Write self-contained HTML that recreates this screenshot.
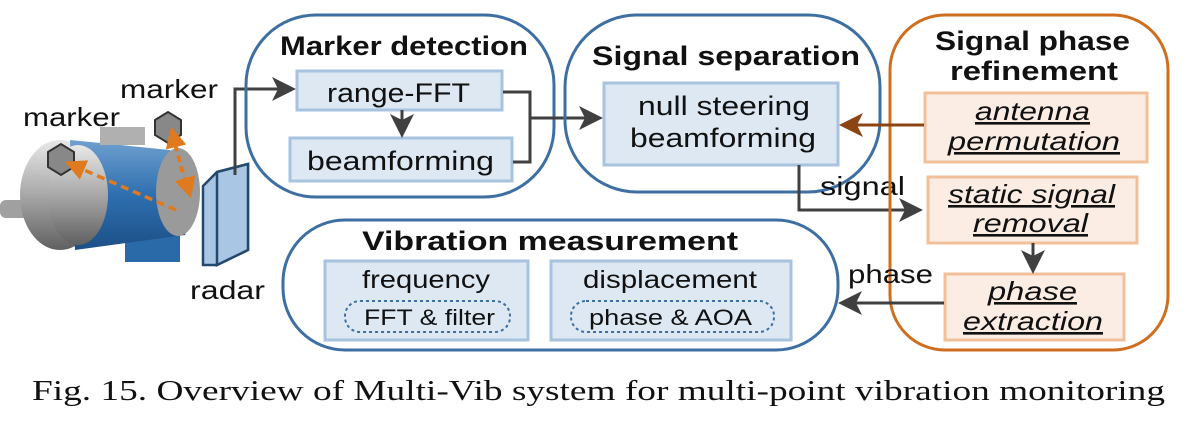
<!DOCTYPE html>
<html><head><meta charset="utf-8"><style>
html,body{margin:0;padding:0;background:#fff;}
svg{display:block;}
text{font-family:"Liberation Sans",Arial,sans-serif;fill:#111;}
.b{font-weight:bold;}
</style></head><body>
<svg width="1200" height="428" viewBox="0 0 1200 428" xmlns="http://www.w3.org/2000/svg">
<defs>
<marker id="ag" markerWidth="8" markerHeight="8" refX="7" refY="4" orient="auto" markerUnits="strokeWidth"><path d="M0,0 L8,4 L0,8 L2,4 z" fill="#404040"/></marker>
<marker id="ao" markerWidth="8" markerHeight="8" refX="7" refY="4" orient="auto" markerUnits="strokeWidth"><path d="M0,0 L8,4 L0,8 L2,4 z" fill="#8b4513"/></marker>
<marker id="ar" markerWidth="6" markerHeight="6" refX="5" refY="3" orient="auto" markerUnits="strokeWidth"><path d="M0,0 L6,3 L0,6 z" fill="#e07a1f"/></marker>
<linearGradient id="gm" x1="0" y1="0" x2="0" y2="1"><stop offset="0" stop-color="#e8e8e8"/><stop offset="0.5" stop-color="#a8a8a8"/><stop offset="1" stop-color="#606060"/></linearGradient>
<linearGradient id="gb" x1="0" y1="0" x2="0" y2="1"><stop offset="0" stop-color="#6fa0cf"/><stop offset="0.5" stop-color="#2e6fb0"/><stop offset="1" stop-color="#1d4f86"/></linearGradient>
</defs>

<!-- motor -->
<rect x="0" y="200" width="50" height="18" rx="6" fill="#a0a0a0"/>
<ellipse cx="60" cy="195" rx="40" ry="55" fill="url(#gm)"/>
<rect x="125" y="200" width="55" height="62" fill="#2a6aa8"/>
<path d="M70,140 L170,150 Q205,185 185,235 L75,250 Z" fill="url(#gb)"/>
<ellipse cx="78" cy="195" rx="30" ry="50" fill="url(#gm)"/>
<ellipse cx="178" cy="192" rx="22" ry="44" fill="#9a9a9a"/>
<rect x="100" y="127" width="45" height="18" fill="#b0b0b0"/>
<!-- markers -->
<path d="M48,152 L61,144 L74,152 L74,167 L61,175 L48,167 Z" fill="#888" stroke="#333" stroke-width="2"/>
<path d="M155,120 L168,112 L181,120 L181,135 L168,143 L155,135 Z" fill="#888" stroke="#333" stroke-width="2"/>
<line x1="176" y1="210" x2="68" y2="163" stroke="#e07a1f" stroke-width="3.5" stroke-dasharray="8,5" marker-end="url(#ar)"/>
<line x1="182" y1="172" x2="172" y2="130" stroke="#e07a1f" stroke-width="3.5" stroke-dasharray="6,5" marker-end="url(#ar)"/>
<line x1="172" y1="135" x2="190" y2="195" stroke="#e07a1f" stroke-width="3.5" stroke-dasharray="6,5" marker-end="url(#ar)"/>
<text x="23" y="126" font-size="26" textLength="97" lengthAdjust="spacingAndGlyphs">marker</text>
<text x="120" y="98" font-size="26" textLength="98" lengthAdjust="spacingAndGlyphs">marker</text>
<!-- radar -->
<path d="M203,186 L217,172 L248,164 L248,250 L217,265 L203,265 Z" fill="#a9c7e4" stroke="#24486e" stroke-width="2.5"/>
<path d="M217,172 L248,164 L248,250 L217,265 Z" fill="#a9c7e4" stroke="#24486e" stroke-width="2.5"/>
<text x="190" y="299" font-size="26" textLength="75" lengthAdjust="spacingAndGlyphs">radar</text>
<polyline points="235,175 235,89 293,89" fill="none" stroke="#404040" stroke-width="3" marker-end="url(#ag)"/>

<!-- Marker detection -->
<rect x="246" y="15" width="308" height="182" rx="70" fill="none" stroke="#3d6fa3" stroke-width="3"/>
<text x="280" y="55" font-size="27" class="b" textLength="248" lengthAdjust="spacingAndGlyphs">Marker detection</text>
<rect x="297" y="71" width="205" height="39" fill="#dde8f3" stroke="#a7c3df" stroke-width="3"/>
<text x="327" y="102" font-size="27" textLength="143" lengthAdjust="spacingAndGlyphs">range-FFT</text>
<rect x="290" y="138" width="222" height="43" fill="#dde8f3" stroke="#a7c3df" stroke-width="3"/>
<text x="307" y="170" font-size="27" textLength="187" lengthAdjust="spacingAndGlyphs">beamforming</text>
<line x1="402" y1="110" x2="402" y2="135" stroke="#404040" stroke-width="3" marker-end="url(#ag)"/>
<polyline points="503,92 530,92 530,162 513,162" fill="none" stroke="#404040" stroke-width="3"/>
<line x1="530" y1="118" x2="600" y2="118" stroke="#404040" stroke-width="3" marker-end="url(#ag)"/>

<!-- Signal separation -->
<rect x="565" y="15" width="315" height="177" rx="72" fill="none" stroke="#3d6fa3" stroke-width="3"/>
<text x="592" y="65" font-size="27" class="b" textLength="268" lengthAdjust="spacingAndGlyphs">Signal separation</text>
<rect x="604" y="83" width="234" height="82" fill="#dde8f3" stroke="#a7c3df" stroke-width="3"/>
<text x="638" y="115" font-size="27" textLength="172" lengthAdjust="spacingAndGlyphs">null steering</text>
<text x="630" y="147" font-size="27" textLength="186" lengthAdjust="spacingAndGlyphs">beamforming</text>
<polyline points="799,165 799,210 920,210" fill="none" stroke="#404040" stroke-width="3" marker-end="url(#ag)"/>
<text x="820" y="195" font-size="26" textLength="85" lengthAdjust="spacingAndGlyphs">signal</text>

<!-- Signal phase refinement -->
<rect x="890" y="15" width="278" height="335" rx="55" fill="none" stroke="#cf6e1f" stroke-width="3"/>
<text x="935" y="50" font-size="27" class="b" textLength="195" lengthAdjust="spacingAndGlyphs">Signal phase</text>
<text x="950" y="80" font-size="27" class="b" textLength="168" lengthAdjust="spacingAndGlyphs">refinement</text>
<rect x="925" y="93" width="222" height="69" fill="#fbede3" stroke="#f1c09b" stroke-width="3"/>
<text x="975" y="120" font-size="26" font-style="italic" text-decoration="underline" textLength="115" lengthAdjust="spacingAndGlyphs">antenna</text>
<text x="948" y="150" font-size="26" font-style="italic" text-decoration="underline" textLength="172" lengthAdjust="spacingAndGlyphs">permutation</text>
<rect x="928" y="177" width="209" height="66" fill="#fbede3" stroke="#f1c09b" stroke-width="3"/>
<text x="948" y="203" font-size="26" font-style="italic" text-decoration="underline" textLength="167" lengthAdjust="spacingAndGlyphs">static signal</text>
<text x="973" y="232" font-size="26" font-style="italic" text-decoration="underline" textLength="115" lengthAdjust="spacingAndGlyphs">removal</text>
<rect x="945" y="274" width="179" height="66" fill="#fbede3" stroke="#f1c09b" stroke-width="3"/>
<text x="988" y="300" font-size="26" font-style="italic" text-decoration="underline" textLength="89" lengthAdjust="spacingAndGlyphs">phase</text>
<text x="963" y="330" font-size="26" font-style="italic" text-decoration="underline" textLength="140" lengthAdjust="spacingAndGlyphs">extraction</text>
<line x1="1033" y1="243" x2="1033" y2="271" stroke="#404040" stroke-width="3" marker-end="url(#ag)"/>
<line x1="924" y1="125" x2="842" y2="125" stroke="#8b4513" stroke-width="3" marker-end="url(#ao)"/>
<line x1="944" y1="303" x2="841" y2="303" stroke="#404040" stroke-width="3" marker-end="url(#ag)"/>
<text x="848" y="283" font-size="26" textLength="85" lengthAdjust="spacingAndGlyphs">phase</text>

<!-- Vibration measurement -->
<rect x="283" y="220" width="555" height="130" rx="62" fill="none" stroke="#3d6fa3" stroke-width="3"/>
<text x="362" y="250" font-size="27" class="b" textLength="376" lengthAdjust="spacingAndGlyphs">Vibration measurement</text>
<rect x="325" y="261" width="203" height="79" fill="#dde8f3" stroke="#a7c3df" stroke-width="3"/>
<text x="362" y="288" font-size="25" textLength="128" lengthAdjust="spacingAndGlyphs">frequency</text>
<rect x="345" y="301" width="165" height="31" rx="15" fill="none" stroke="#3d6fa3" stroke-width="2" stroke-dasharray="3,3"/>
<text x="364" y="325" font-size="22" textLength="131" lengthAdjust="spacingAndGlyphs">FFT &amp; filter</text>
<rect x="551" y="261" width="240" height="79" fill="#dde8f3" stroke="#a7c3df" stroke-width="3"/>
<text x="583" y="288" font-size="25" textLength="174" lengthAdjust="spacingAndGlyphs">displacement</text>
<rect x="571" y="301" width="203" height="31" rx="15" fill="none" stroke="#3d6fa3" stroke-width="2" stroke-dasharray="3,3"/>
<text x="589" y="325" font-size="22" textLength="163" lengthAdjust="spacingAndGlyphs">phase &amp; AOA</text>

<!-- caption -->
<text x="32" y="400" font-size="28" textLength="1133" lengthAdjust="spacingAndGlyphs" style="font-family:'Liberation Serif',serif">Fig. 15.  Overview of Multi-Vib system for multi-point vibration monitoring</text>
</svg>
</body></html>
